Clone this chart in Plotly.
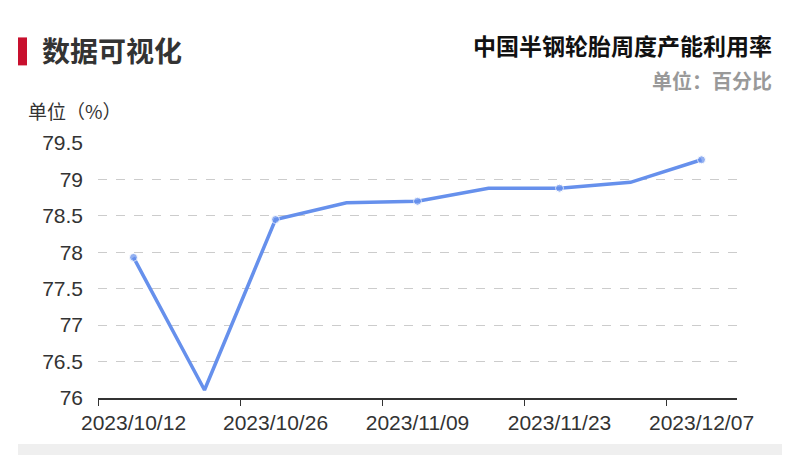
import plotly.graph_objects as go

# 中国半钢轮胎周度产能利用率（%）
dates = ["2023/10/12", "2023/10/19", "2023/10/26", "2023/11/02", "2023/11/09",
         "2023/11/16", "2023/11/23", "2023/11/30", "2023/12/07"]
rates = [77.93, 76.11, 78.45, 78.68, 78.70, 78.88, 78.88, 78.96, 79.27]

y_ticks = [76, 76.5, 77, 77.5, 78, 78.5, 79, 79.5]
y_labels = ["76", "76.5", "77", "77.5", "78", "78.5", "79", "79.5"]

# page body adds ~8px offset, so work in screen pixels minus that
OFF = 8
L, R, T, B = 98 - OFF, 737 - OFF, 142.7 - OFF, 398 - OFF
W, H = R - L, B - T


def px(x):
    return (x - OFF - L) / W


def py(y):
    return (B - (y - OFF)) / H


num_font = "Liberation Sans, Noto Sans CJK SC, sans-serif"
cjk_font = "Noto Sans CJK SC, sans-serif"

fig = go.Figure()
fig.add_trace(go.Scatter(
    x=dates, y=rates, mode="lines+markers",
    line=dict(color="#6690ec", width=3.5),
    marker=dict(color="#6690ec", size=[8 if i % 2 == 0 else 0 for i in range(len(dates))]),
    hoverinfo="x+y", showlegend=False,
))

fig.update_layout(
    width=800, height=455,
    margin=dict(l=L, r=800 - R, t=T, b=455 - B),
    paper_bgcolor="white", plot_bgcolor="white",
    font=dict(family=num_font, color="#333333", size=21),
    xaxis=dict(
        type="category", tickmode="linear", tick0=0, dtick=2,
        tickson="boundaries", ticks="outside", ticklen=6, tickcolor="#333333",
        showline=True, linecolor="#333333", linewidth=1.5,
        showgrid=False, range=[-0.5, len(dates) - 0.5],
        tickangle=0, automargin=False, ticklabelstandoff=5,
        tickfont=dict(size=21, color="#333333"),
    ),
    yaxis=dict(
        range=[76, 79.5], tickmode="array", tickvals=y_ticks, ticktext=y_labels,
        showgrid=True, gridcolor="#cccccc", griddash="dash", gridwidth=1,
        zeroline=False, showline=False, ticks="", ticklabelstandoff=14,
        automargin=False,
        tickfont=dict(size=21, color="#333333"),
    ),
)

# red marker bar + bottom strip
fig.add_shape(type="rect", xref="paper", yref="paper",
              x0=px(18), x1=px(27), y0=py(65), y1=py(37),
              fillcolor="#c8102e", line=dict(width=0), layer="above")
fig.add_shape(type="rect", xref="paper", yref="paper",
              x0=px(18), x1=px(782), y0=py(460), y1=py(444),
              fillcolor="#efefef", line=dict(width=0), layer="below")

fig.add_annotation(text="<b>数据可视化</b>", xref="paper", yref="paper",
                   x=px(40), y=py(50), xanchor="left", yanchor="middle",
                   showarrow=False, font=dict(family=cjk_font, size=28, color="#333333"))
fig.add_annotation(text="<b>中国半钢轮胎周度产能利用率</b>", xref="paper", yref="paper",
                   x=px(774), y=py(45), xanchor="right", yanchor="middle",
                   showarrow=False, font=dict(family=cjk_font, size=23, color="#111111"))
fig.add_annotation(text="<b>单位：百分比</b>", xref="paper", yref="paper",
                   x=px(774), y=py(80), xanchor="right", yanchor="middle",
                   showarrow=False, font=dict(family=cjk_font, size=20, color="#999999"))
fig.add_annotation(text="单位（%）", xref="paper", yref="paper",
                   x=px(26), y=py(110), xanchor="left", yanchor="middle",
                   showarrow=False, font=dict(family=cjk_font, size=19, color="#333333"))

fig.write_html("out.html")
